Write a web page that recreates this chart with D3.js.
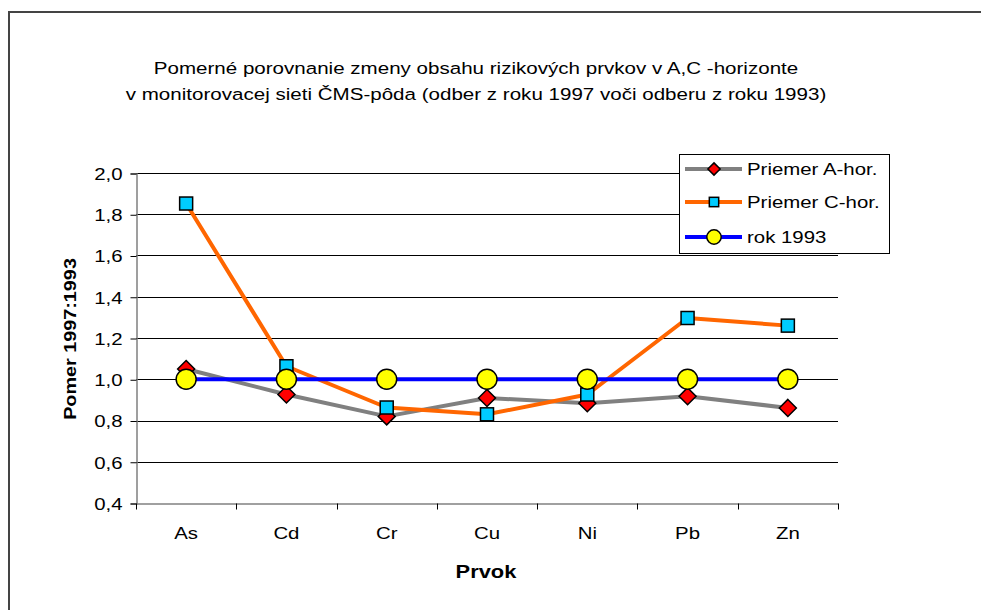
<!DOCTYPE html>
<html><head><meta charset="utf-8">
<script src="https://cdn.jsdelivr.net/npm/d3@7"></script>
<style>body{margin:0;background:#fff}svg{display:block;font-family:Arial,"Liberation Sans",sans-serif}</style>
</head><body>
<svg id="c" width="981" height="610"></svg>
<script>
const categories = ["As","Cd","Cr","Cu","Ni","Pb","Zn"];
const seriesA = [1.05,0.926,0.82,0.909,0.884,0.918,0.861];
const seriesC = [1.852,1.063,0.863,0.83,0.926,1.297,1.26];
const series1993 = [1,1,1,1,1,1,1];
const seriesNames = ["Priemer A-hor.","Priemer C-hor.","rok 1993"];
const yTicks = [0.4,0.6,0.8,1.0,1.2,1.4,1.6,1.8,2.0];
const titleLines = ["Pomerné porovnanie zmeny obsahu rizikových prvkov v A,C -horizonte","v monitorovacej sieti ČMS-pôda (odber z roku 1997 voči odberu z roku 1993)"];

const SX = 1.2;
const svg = d3.select("#c");
const L=136,R=838,T=173,B=503;
const x = d3.scaleBand().domain(categories).range([L,R]);
const y = d3.scaleLinear().domain([0.4,2.0]).range([B,T]);

function stext(g,px,py,str,opts={}){
  const sx = opts.sx||SX;
  const t = g.append("text").attr("transform",`translate(${px},${py})${opts.rot?` rotate(${opts.rot})`:""} scale(${sx},1)`)
    .attr("font-size",opts.size||17).attr("text-anchor",opts.anchor||"start").attr("fill","#000").text(str);
  if(opts.bold) t.attr("font-weight","bold");
  if(opts.dy) t.attr("dy",opts.dy);
  return t;
}

// outer border
svg.append("path").attr("d","M9,610 V12 H981").attr("fill","none").attr("stroke","#444").attr("stroke-width",2);

// title
titleLines.forEach((s,i)=>stext(svg,476,74+i*26,s,{anchor:"middle",size:17,sx:1.21}));

// gridlines
svg.append("g").selectAll("line").data(yTicks.filter(v=>v>0.4)).join("line")
  .attr("x1",L).attr("x2",R).attr("y1",d=>Math.round(y(d))+0.5).attr("y2",d=>Math.round(y(d))+0.5)
  .attr("stroke","#000").attr("stroke-width",1);

// y axis
const yAxis = d3.axisLeft(y).tickValues(yTicks).tickSize(6).tickPadding(8)
  .tickFormat(d=>d3.format(".1f")(d).replace(".",","));
const gy = svg.append("g").attr("transform",`translate(${L+0.5},0.5)`).call(yAxis);
gy.select(".domain").attr("stroke","#808080").attr("stroke-width",1.5);
gy.selectAll(".tick line").attr("stroke","#000");
gy.selectAll(".tick text").attr("font-size",17).attr("font-family","Arial, 'Liberation Sans', sans-serif")
  .attr("fill","#000").attr("dy","0.35em").attr("x",-14/SX).attr("transform",`scale(${SX},1)`);

// x axis
const xAxis = d3.axisBottom(x).tickSize(0).tickPadding(23);
const gx = svg.append("g").attr("transform",`translate(0,${B+0.5})`).call(xAxis);
gx.select(".domain").attr("stroke","#808080").attr("stroke-width",1.5);
gx.selectAll(".tick text").attr("font-size",17).attr("font-family","Arial, 'Liberation Sans', sans-serif")
  .attr("fill","#000").attr("transform",`scale(${SX},1)`).attr("y",23).attr("dy","0.71em");
const bounds = categories.map(c=>x(c)).concat([R]);
gx.append("g").selectAll("line").data(bounds).join("line")
  .attr("x1",d=>Math.round(d)+0.5).attr("x2",d=>Math.round(d)+0.5).attr("y1",0).attr("y2",6)
  .attr("stroke","#000");

// axis titles
stext(svg,486,578,"Prvok",{anchor:"middle",size:17.5,bold:true,sx:1.25});
stext(svg,76,339,"Pomer 1997:1993",{anchor:"middle",size:16.5,bold:true,rot:-90,sx:1.2});

const cx = c=>x(c)+x.bandwidth()/2;
const styles = [
  {data:seriesA,color:"#808080",marker:"diamond",fill:"#FF0000"},
  {data:seriesC,color:"#FF6600",marker:"square",fill:"#00CCFF"},
  {data:series1993,color:"#0000FF",marker:"circle",fill:"#FFFF00"}
];
function drawMarker(g,type,fill,px,py,k=1){
  if(type==="diamond"){
    const h=8.5*k;
    g.append("path").attr("d",`M${px},${py-h} L${px+h},${py} L${px},${py+h} L${px-h},${py} Z`)
     .attr("fill",fill).attr("stroke","#000").attr("stroke-width",1.5);
  } else if(type==="square"){
    const h=6.5*k;
    g.append("rect").attr("x",px-h).attr("y",py-h).attr("width",2*h).attr("height",2*h)
     .attr("fill",fill).attr("stroke","#000").attr("stroke-width",1.5);
  } else {
    g.append("circle").attr("cx",px).attr("cy",py).attr("r",10*k)
     .attr("fill",fill).attr("stroke","#000").attr("stroke-width",1.5);
  }
}
const line = d3.line().x((d,i)=>cx(categories[i])).y(d=>y(d));
styles.forEach(s=>{
  const g = svg.append("g");
  g.append("path").attr("d",line(s.data)).attr("fill","none").attr("stroke",s.color).attr("stroke-width",4).attr("stroke-linejoin","round");
  s.data.forEach((v,i)=>drawMarker(g,s.marker,s.fill,cx(categories[i]),y(v)));
});

// legend
const lg = svg.append("g");
lg.append("rect").attr("x",679.5).attr("y",154.5).attr("width",210).attr("height",99)
  .attr("fill","#fff").attr("stroke","#000").attr("stroke-width",1);
const rows=[169,202,237];
styles.forEach((s,i)=>{
  lg.append("line").attr("x1",685).attr("x2",742).attr("y1",rows[i]).attr("y2",rows[i])
    .attr("stroke",s.color).attr("stroke-width",4);
  drawMarker(lg,s.marker,s.fill,714,rows[i],0.72);
  stext(lg,747,rows[i],seriesNames[i],{size:17,dy:"0.35em"});
});
</script>
</body></html>
